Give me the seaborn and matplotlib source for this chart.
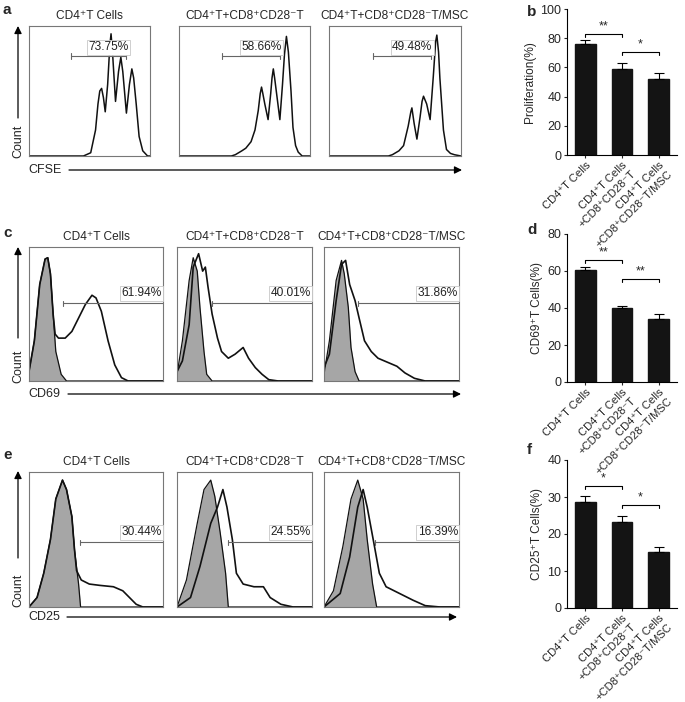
import matplotlib
matplotlib.use("Agg")
import matplotlib.pyplot as plt
import numpy as np
import seaborn as sns

sns.set_style('white')
plt.rcParams['font.family'] = ['Liberation Sans', 'DejaVu Sans']

W, H = 685, 702

hist_titles = ['CD4⁺T Cells', 'CD4⁺T+CD8⁺CD28⁻T', 'CD4⁺T+CD8⁺CD28⁻T/MSC']
bar_groups = ['CD4⁺T Cells', 'CD4⁺T Cells\n+CD8⁺CD28⁻T', 'CD4⁺T Cells\n+CD8⁺CD28⁻T/MSC']

# panel a - CFSE histograms (x and count as % of box)
cfse_x = [
    [0, 45, 51, 55, 57, 58.5, 60, 61.5, 63, 65, 66.8, 67.8, 69, 71.5, 74, 75.9, 77.5, 80.5, 83, 85, 86.5, 88.6, 91, 94, 98, 100],
    [0, 40, 43, 48, 51, 55, 58, 60.5, 62, 63, 64, 65.5, 68, 70, 71, 72, 73, 74, 75.5, 77, 79, 80.5, 82, 83.5, 85.5, 87, 89, 91, 94, 100],
    [0, 45, 48, 53, 56.5, 60, 62, 62.8, 64.5, 66.6, 69, 70.5, 71.6, 74, 76.6, 79, 80.8, 81.7, 83, 84, 86.7, 89, 92, 95, 100],
]
cfse_y = [
    [0, 0, 2.5, 20, 40, 50, 52, 45, 34, 55, 85, 94, 80, 42, 65, 76, 65, 33, 55, 67, 60, 40, 15, 4, 0, 0],
    [0, 0, 1, 4, 6, 11, 20, 35, 48, 53, 48, 40, 28, 48, 60, 67, 60, 52, 40, 28, 55, 78, 92, 80, 50, 22, 8, 3, 0, 0],
    [0, 0, 1, 4, 8, 23, 34, 37, 25, 13, 30, 42, 46, 40, 28, 61, 88, 93, 80, 60, 20, 5, 2, 1, 0],
]
cfse_pct = ['73.75%', '58.66%', '49.48%']
cfse_gate = [(35, 80), (33, 77), (33, 77)]

# panel c - CD69 (grey = control, line = sample)
cd69_ctrl_x = [
    [0, 4, 8, 12, 14, 16, 18, 20, 24, 28, 100],
    [0, 4, 9, 12, 15, 17, 20, 22, 26, 100],
    [0, 4, 9, 13, 15, 18, 20, 23, 26, 100],
]
cd69_ctrl_y = [
    [7, 30, 72, 91, 92, 80, 50, 22, 5, 0, 0],
    [5, 30, 75, 92, 82, 55, 22, 5, 0, 0],
    [5, 30, 75, 90, 80, 55, 25, 7, 0, 0],
]
cd69_x = [
    [0, 4, 8, 12, 14, 16, 18, 19.5, 22, 27, 32, 37, 42, 47, 50, 54, 59, 64, 69, 74, 100],
    [0, 4, 9, 12, 16, 19, 21, 23, 26, 30, 33, 38, 43, 49, 53, 58, 63, 68, 75, 100],
    [0, 4, 9, 13, 16, 19, 23, 26, 30, 35, 40, 47, 54, 60, 67, 75, 100],
]
cd69_y = [
    [7, 30, 72, 91, 92, 80, 50, 35, 32, 32, 37, 47, 57, 64, 62, 52, 30, 12, 2.5, 0, 0],
    [7, 15, 42, 85, 95, 82, 85, 70, 50, 32, 22, 17, 20, 25, 17, 10, 5, 1, 0, 0],
    [10, 20, 60, 87, 90, 72, 60, 47, 30, 22, 17, 14, 11, 6, 2, 0, 0],
]
cd69_pct = ['61.94%', '40.01%', '31.86%']
cd69_gate = [25, 26, 25]

# panel e - CD25
cd25_ctrl_x = [
    [0, 6, 11, 16, 20, 25, 28, 32, 34, 37, 38.5, 100],
    [0, 7, 15, 20, 25, 28, 32, 36, 38, 100],
    [0, 7, 14, 20, 25, 29, 32, 36, 39, 100],
]
cd25_ctrl_y = [
    [0, 7, 25, 50, 80, 94, 87, 67, 42, 17, 0, 0],
    [0, 20, 62, 87, 94, 82, 55, 25, 0, 0],
    [0, 12, 45, 80, 94, 80, 50, 17, 0, 0],
]
cd25_x = [
    [0, 6, 11, 16, 20, 25, 28, 32, 34, 35.5, 39, 45, 53, 63, 70, 75, 80, 85, 100],
    [0, 10, 17, 25, 30, 34, 37, 41, 44, 49, 57, 64, 69, 77, 86, 100],
    [0, 12, 19, 25, 29, 32, 37, 41, 46, 56, 66, 75, 86, 100],
]
cd25_y = [
    [0, 7, 25, 50, 80, 94, 87, 67, 42, 27, 20, 17, 16, 15, 12, 7, 2, 0, 0],
    [0, 7, 30, 62, 74, 87, 74, 50, 25, 17, 15, 15, 7, 2, 0, 0],
    [0, 10, 37, 74, 87, 74, 47, 25, 15, 10, 5, 1, 0, 0],
]
cd25_pct = ['30.44%', '24.55%', '16.39%']
cd25_gate = [38, 38, 38]

# bar panels b, d, f
prolif_mean = [75.8, 58.9, 52.3]
prolif_err = [3.0, 4.3, 4.1]
cd69_mean = [60.3, 40.2, 33.8]
cd69_err = [1.7, 1.1, 2.8]
cd25_mean = [28.6, 23.3, 15.2]
cd25_err = [1.6, 1.5, 1.2]


def rect(l, t, r, b):
    return [l / W, 1 - b / H, (r - l) / W, (b - t) / H]


fig = plt.figure(figsize=(6.85, 7.02), dpi=100)
bg = fig.add_axes([0, 0, 1, 1])
bg.set_xlim(0, W)
bg.set_ylim(H, 0)
bg.axis('off')

box_x = [(29, 150), (179, 310), (329, 461)]
box_x2 = [(29, 163), (177, 312), (324, 459)]
lab_fs = 8.6


def hist_box(l, t, r, b, title):
    ax = fig.add_axes(rect(l, t, r, b))
    ax.set_xlim(0, 100)
    ax.set_ylim(0, 100)
    ax.set_xticks([])
    ax.set_yticks([])
    for s in ax.spines.values():
        s.set_color('#777777')
        s.set_linewidth(0.8)
    ax.set_title(title, fontsize=lab_fs, pad=5)
    return ax


def pct_box(ax, x, y, label, ha):
    ax.text(x, y, label, ha=ha, va='bottom', fontsize=lab_fs, color='#222222',
            bbox=dict(boxstyle='square,pad=0.12', fc='white', ec='#c8c8c8', lw=0.6))


# panel a
for i in range(3):
    ax = hist_box(box_x[i][0], 26, box_x[i][1], 156, hist_titles[i])
    sns.lineplot(x=cfse_x[i], y=cfse_y[i], ax=ax, color='#111111', lw=1.1,
                 sort=False, estimator=None)
    g0, g1 = cfse_gate[i]
    ax.plot([g0, g1], [77, 77], color='#666666', lw=0.8)
    for gx in (g0, g1):
        ax.plot([gx, gx], [75, 79], color='#666666', lw=0.8)
    pct_box(ax, (g0 + g1) / 2 + 8, 79, cfse_pct[i], 'center')


def overlay_row(top, bottom, cx, cy, sx, sy, pcts, gates, gy):
    for i in range(3):
        ax = hist_box(box_x2[i][0], top, box_x2[i][1], bottom, hist_titles[i])
        ax.fill_between(cx[i], cy[i], color='#a6a6a6', lw=0)
        sns.lineplot(x=cx[i], y=cy[i], ax=ax, color='#111111', lw=0.9,
                     sort=False, estimator=None)
        sns.lineplot(x=sx[i], y=sy[i], ax=ax, color='#111111', lw=1.2,
                     sort=False, estimator=None)
        ax.plot([gates[i], 100], [gy, gy], color='#666666', lw=0.8)
        ax.plot([gates[i], gates[i]], [gy - 2, gy + 2], color='#666666', lw=0.8)
        pct_box(ax, 99.3, gy + 3, pcts[i], 'right')


overlay_row(247, 381, cd69_ctrl_x, cd69_ctrl_y, cd69_x, cd69_y, cd69_pct, cd69_gate, 58)
overlay_row(472, 607, cd25_ctrl_x, cd25_ctrl_y, cd25_x, cd25_y, cd25_pct, cd25_gate, 48)

# axis arrows and labels
arrow = dict(arrowstyle='-|>', color='black', lw=0.9, mutation_scale=11, shrinkA=0, shrinkB=0)
for (ya, yb, ytxt, xlab, xly, xa0, xa1) in [
    (118, 26, 141, 'CFSE', 170, 69, 462),
    (338, 247, 366, 'CD69', 394, 68, 461),
    (558, 471, 590, 'CD25', 617, 67, 457),
]:
    bg.annotate('', xy=(18, yb), xytext=(18, ya), arrowprops=arrow)
    bg.text(18, ytxt, 'Count', rotation=90, ha='center', va='center', fontsize=9)
    bg.annotate('', xy=(xa1, xly), xytext=(xa0, xly), arrowprops=arrow)
    bg.text(28, xly, xlab, ha='left', va='center', fontsize=9)

for letter, x, y in [('a', 3, 10), ('b', 527, 12), ('c', 3, 233),
                     ('d', 527, 230), ('e', 3, 455), ('f', 527, 450)]:
    bg.text(x, y, letter, fontsize=11, fontweight='bold', ha='left', va='center')


def bar_panel(t, b, means, errs, ymax, step, ylabel, brackets):
    ax = fig.add_axes(rect(567, t, 677, b))
    ax.patch.set_alpha(0)
    sns.barplot(x=bar_groups, y=means, ax=ax, color='#141414', width=0.56,
                errorbar=None, saturation=1, edgecolor='#141414')
    ax.errorbar(range(3), means, yerr=[np.zeros(3), errs], fmt='none',
                ecolor='black', elinewidth=0.8, capsize=3.5, capthick=0.8, zorder=1)
    ax.set_xlim(-0.5, 2.5)
    ax.set_ylim(0, ymax)
    ax.set_yticks(np.arange(0, ymax + 1, step))
    sns.despine(ax=ax)
    for s in ['left', 'bottom']:
        ax.spines[s].set_linewidth(0.8)
        ax.spines[s].set_color('black')
    ax.tick_params(axis='both', direction='out', length=2.5, width=0.8,
                   bottom=True, left=True, pad=1.5)
    ax.tick_params(axis='y', labelsize=9)
    ax.tick_params(axis='x', labelsize=8)
    for lab in ax.get_xticklabels():
        lab.set_rotation(45)
        lab.set_ha('right')
        lab.set_rotation_mode('anchor')
        lab.set_multialignment('right')
    ax.set_ylabel(ylabel, fontsize=8.6, labelpad=3)
    ax.set_xlabel('')
    for (i0, i1, y, stars) in brackets:
        h = ymax * 0.02
        ax.plot([i0, i0, i1, i1], [y - h, y, y, y - h], color='black', lw=0.8)
        ax.text((i0 + i1) / 2, y + ymax * 0.012, stars, ha='center', va='bottom', fontsize=9)
    return ax


bar_panel(9, 155, prolif_mean, prolif_err, 100, 20, 'Proliferation(%)',
          [(0, 1, 83, '**'), (1, 2, 70.5, '*')])
bar_panel(234, 382, cd69_mean, cd69_err, 80, 20, 'CD69⁺T Cells(%)',
          [(0, 1, 66, '**'), (1, 2, 55.6, '**')])
bar_panel(460, 608, cd25_mean, cd25_err, 40, 10, 'CD25⁺T Cells(%)',
          [(0, 1, 32.9, '*'), (1, 2, 27.9, '*')])

fig.savefig('out.png', dpi=100)
